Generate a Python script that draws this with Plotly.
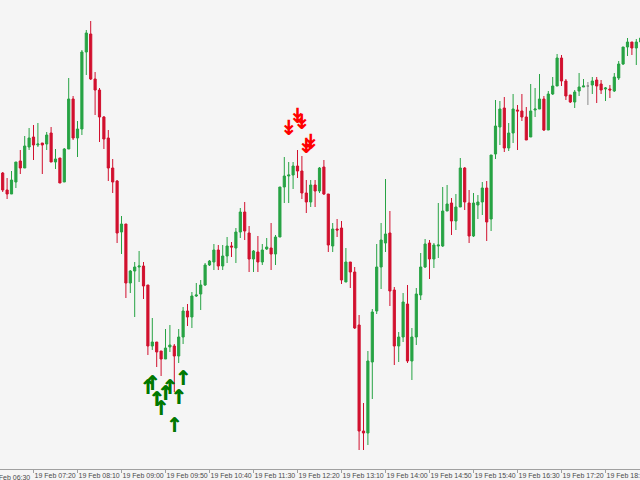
import pandas as pd
import plotly.graph_objects as go

# 5 minute bars, 19 Feb, first bar 06:45
start_time = '2025-02-19 06:45'
bar_minutes = 5

# prices in points (no price scale is visible on the chart)
open_ = [327, 310, 306, 318, 339, 332, 353, 363, 355, 357, 356, 367, 338, 342, 318, 351, 401, 362, 371, 448,
         466, 421, 410, 383, 362, 332, 319, 268, 276, 217, 229, 233, 234, 215, 154, 158, 149, 141, 153, 154,
         144, 163, 189, 183, 204, 206, 215, 235, 238, 250, 234, 244, 254, 252, 268, 288, 267, 241, 248, 238,
         251, 252, 246, 263, 313, 324, 325, 334, 329, 307, 298, 315, 309, 333, 306, 254, 271, 272, 218, 238,
         228, 175, 69, 67, 138, 189, 233, 257, 267, 210, 154, 163, 196, 139, 163, 205, 233, 257, 241, 254,
         254, 289, 297, 279, 293, 332, 297, 264, 295, 298, 312, 281, 346, 373, 392, 352, 367, 390, 389, 383,
         363, 390, 391, 401, 370, 406, 414, 442, 419, 405, 398, 409, 413, 414, 415, 420, 416, 411, 411, 409,
         422, 436, 453, 458, 452, 458]
high = [328, 322, 329, 338, 350, 364, 372, 375, 377, 357, 368, 373, 351, 342, 352, 422, 404, 379, 450, 470,
        479, 428, 412, 384, 370, 341, 320, 284, 276, 230, 238, 249, 238, 215, 182, 158, 149, 171, 175, 156,
        171, 193, 196, 208, 217, 220, 237, 240, 256, 255, 255, 263, 258, 272, 292, 298, 274, 250, 264, 256,
        262, 277, 265, 313, 343, 338, 338, 350, 344, 320, 320, 320, 333, 340, 306, 277, 281, 279, 252, 238,
        233, 185, 97, 149, 191, 256, 277, 321, 289, 213, 168, 207, 215, 172, 212, 247, 261, 260, 257, 297,
        313, 315, 302, 306, 342, 333, 310, 307, 305, 318, 319, 345, 400, 399, 403, 377, 406, 395, 406, 393,
        416, 412, 426, 404, 409, 423, 446, 445, 421, 405, 410, 427, 421, 418, 423, 423, 420, 413, 415, 427,
        439, 453, 462, 458, 461, 465]
low = [308, 301, 306, 312, 326, 332, 350, 340, 353, 326, 350, 338, 331, 317, 318, 351, 360, 343, 365, 425,
       420, 385, 358, 351, 319, 307, 257, 246, 202, 207, 183, 218, 201, 145, 150, 133, 124, 141, 148, 108,
       137, 156, 174, 172, 203, 190, 214, 234, 230, 230, 230, 237, 243, 237, 262, 260, 228, 228, 228, 235,
       250, 230, 235, 263, 297, 297, 311, 322, 301, 287, 293, 293, 307, 305, 248, 248, 263, 216, 218, 212,
       171, 50, 50, 55, 101, 186, 211, 248, 194, 135, 138, 158, 137, 120, 155, 200, 232, 221, 232, 242,
       253, 289, 265, 270, 293, 290, 257, 263, 281, 285, 259, 269, 341, 355, 348, 349, 357, 350, 379, 360,
       363, 383, 391, 369, 370, 405, 414, 414, 400, 397, 392, 404, 413, 395, 406, 397, 406, 399, 402, 408,
       420, 435, 444, 445, 435, 455]
close = [310, 306, 320, 338, 332, 354, 362, 355, 356, 355, 365, 338, 341, 317, 351, 401, 362, 371, 448, 467,
         421, 410, 383, 361, 332, 318, 267, 276, 217, 229, 233, 234, 214, 154, 158, 148, 141, 152, 155, 144,
         163, 189, 183, 204, 205, 215, 235, 239, 250, 234, 244, 254, 253, 268, 288, 269, 241, 249, 238, 250,
         253, 246, 263, 313, 324, 325, 334, 329, 307, 298, 315, 309, 332, 306, 255, 271, 270, 220, 238, 228,
         172, 69, 67, 139, 188, 233, 260, 266, 209, 154, 163, 198, 139, 163, 206, 233, 256, 241, 255, 255,
         289, 296, 279, 293, 332, 298, 264, 297, 298, 312, 278, 345, 374, 391, 352, 367, 391, 389, 383, 360,
         389, 391, 401, 370, 406, 414, 442, 419, 404, 398, 408, 413, 414, 414, 419, 414, 410, 412, 410, 423,
         436, 453, 458, 452, 458, 462]

# signal arrows: bar index and price
buy_bars = [33, 34, 35, 36, 37, 38, 39, 40, 41]
buy_prices = [111, 115, 99, 90, 105, 111, 73, 101, 120]
sell_bars = [65, 67, 68, 69, 70]
sell_prices = [370, 382, 376, 352, 356]

tick_times = ['06:30', '07:20', '08:10', '09:00', '09:50', '10:40', '11:30', '12:20',
              '13:10', '14:00', '14:50', '15:40', '16:30', '17:20', '18:10']

bull_color = '#27a344'
bear_color = '#d1102e'
doji_color = '#8a8a8a'
axis_font = dict(family='Liberation Sans, Arial, sans-serif', size=7, color='#4a4a4a')

times = pd.date_range(start=start_time, periods=len(open_), freq=f'{bar_minutes}min')
df = pd.DataFrame({'time': times, 'open': open_, 'high': high, 'low': low, 'close': close})
doji = df['open'] == df['close']

fig = go.Figure()
for part, up, down in [(df[~doji], bull_color, bear_color), (df[doji], doji_color, doji_color)]:
    fig.add_trace(go.Candlestick(
        x=part['time'], open=part['open'], high=part['high'], low=part['low'], close=part['close'],
        increasing=dict(line=dict(color=up, width=1), fillcolor=up),
        decreasing=dict(line=dict(color=down, width=1), fillcolor=down),
        showlegend=False, hoverinfo='skip'
    ))

fig.add_trace(go.Scatter(
    x=times[buy_bars], y=buy_prices, mode='text', text=['\u2191'] * len(buy_bars),
    textfont=dict(family='DejaVu Sans', size=20, color='#007a00', weight='bold',
                  shadow='0.6px 0 0 #006400'),
    showlegend=False, hoverinfo='skip'
))
fig.add_trace(go.Scatter(
    x=times[sell_bars], y=sell_prices, mode='text', text=['\u21a1'] * len(sell_bars),
    textfont=dict(family='DejaVu Sans', size=21, color='#ff0000', weight='bold'),
    showlegend=False, hoverinfo='skip'
))

# visible window: bar 0 sits 2.7px from the left edge, 4.4px per bar on a 640px wide plot
step = pd.Timedelta(minutes=bar_minutes)
x_left = times[0] - step * (2.7 / 4.4)
x_right = times[0] + step * ((640 - 2.7) / 4.4)

tick_vals = [pd.Timestamp('2025-02-19 ' + t) for t in tick_times]
shown = [t for t in tick_vals if x_left <= t <= x_right]

# the first label belongs to a tick just left of the window, only its tail shows
hidden_tick = tick_vals[0]
hidden_x = (hidden_tick - x_left) / (x_right - x_left)
fig.add_annotation(
    x=hidden_x, y=0, xref='paper', yref='paper', xanchor='left', yanchor='top',
    text=hidden_tick.strftime('%d %b %H:%M'), showarrow=False, font=axis_font, yshift=-3, xshift=-2
)

fig.update_layout(
    width=640, height=480,
    margin=dict(l=0, r=0, t=0, b=11, autoexpand=False),
    paper_bgcolor='#f5f5f5', plot_bgcolor='#f5f5f5',
    hovermode=False, showlegend=False,
    xaxis=dict(
        type='date', range=[x_left, x_right],
        rangeslider=dict(visible=False),
        tickvals=shown, tickformat='%d %b %H:%M', tickangle=0,
        ticks='outside', ticklen=3, tickcolor='#a0a0a0',
        ticklabelposition='outside right', ticklabeloverflow='allow',
        tickfont=axis_font, automargin=False,
        showline=True, linecolor='#a0a0a0', linewidth=1,
        showgrid=False, zeroline=False
    ),
    yaxis=dict(range=[31, 500], visible=False, showgrid=False, zeroline=False, automargin=False)
)

fig.write_html('out.html', config={'displayModeBar': False},
               post_script="document.body.style.margin='0';")
